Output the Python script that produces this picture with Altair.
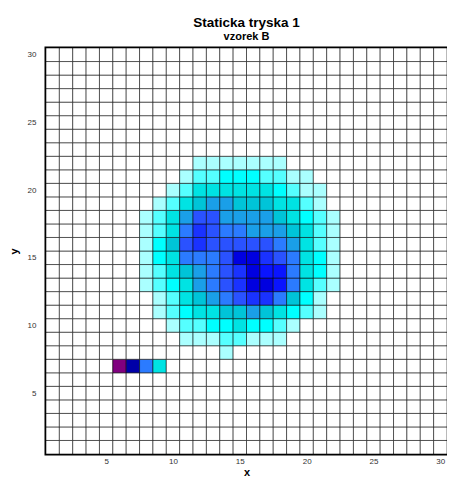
import altair as alt
import pandas as pd

title_text = "Staticka tryska 1"
subtitle_text = "vzorek B"
x_ticks = [5, 10, 15, 20, 25, 30]
y_ticks = [5, 10, 15, 20, 25, 30]
n_cols = 30
n_rows = 30

# colour of each level (0 = empty cell)
level_colors = [
    "#ffffff", "#aaffff", "#55ffff", "#00ffff", "#00e3e3", "#00c4d8", "#1a9fe8",
    "#2b7bff", "#2a52ff", "#1a32ff", "#0a14ff", "#0000e0", "#0000a8", "#80007f",
]

# each row: (y, first x, levels from that x on)
row_22 = (22, 12, [1, 1, 1, 1, 1, 1, 1])
row_21 = (21, 11, [1, 2, 2, 3, 3, 3, 2, 2, 1, 1])
row_20 = (20, 10, [1, 2, 4, 4, 4, 4, 4, 4, 3, 2, 1, 1])
row_19 = (19, 9, [1, 2, 4, 5, 6, 6, 5, 5, 5, 4, 4, 2, 1])
row_18 = (18, 8, [1, 2, 4, 6, 8, 8, 6, 6, 6, 6, 5, 4, 3, 2, 1])
row_17 = (17, 8, [1, 2, 4, 7, 9, 8, 7, 7, 6, 6, 6, 5, 4, 2, 1])
row_16 = (16, 8, [1, 3, 5, 8, 9, 8, 8, 8, 8, 8, 7, 6, 4, 2, 1])
row_15 = (15, 8, [1, 3, 4, 7, 7, 7, 8, 11, 11, 9, 8, 7, 4, 3, 1])
row_14 = (14, 8, [1, 2, 4, 5, 6, 7, 8, 9, 11, 10, 10, 7, 4, 3, 1])
row_13 = (13, 8, [1, 2, 3, 4, 6, 7, 8, 9, 11, 11, 10, 7, 4, 2, 1])
row_12 = (12, 9, [1, 2, 4, 5, 6, 7, 8, 9, 9, 7, 5, 3, 1])
row_11 = (11, 9, [1, 2, 3, 4, 4, 5, 5, 6, 5, 4, 3, 2, 1])
row_10 = (10, 10, [1, 2, 2, 3, 3, 4, 3, 3, 2, 1])
row_09 = (9, 11, [1, 1, 1, 2, 2, 1, 1, 1])
row_08 = (8, 14, [1])
row_07 = (7, 6, [13, 12, 7, 4])

rows = [row_22, row_21, row_20, row_19, row_18, row_17, row_16, row_15,
        row_14, row_13, row_12, row_11, row_10, row_09, row_08, row_07]

lookup = {}
for yy, x_start, levels in rows:
    for k, lv in enumerate(levels):
        lookup[(x_start + k, yy)] = lv

records = []
for yy in range(1, n_rows + 1):
    for xx in range(1, n_cols + 1):
        records.append({
            "x0": xx - 0.5, "x1": xx + 0.5,
            "y0": yy - 0.5, "y1": yy + 0.5,
            "level": lookup.get((xx, yy), 0),
        })
df = pd.DataFrame(records)

font = "Liberation Sans"

chart = alt.Chart(df).mark_rect(
    stroke="black", strokeOpacity=0.55, strokeWidth=1
).encode(
    x=alt.X("x0:Q",
            scale=alt.Scale(domain=[0.5, n_cols + 0.5], nice=False, zero=False),
            axis=alt.Axis(values=x_ticks, title="x", labelPadding=3, titlePadding=1)),
    x2="x1:Q",
    y=alt.Y("y0:Q",
            scale=alt.Scale(domain=[0.5, n_rows + 0.5], nice=False, zero=False),
            axis=alt.Axis(values=y_ticks, title="y", labelPadding=10, titlePadding=8)),
    y2="y1:Q",
    color=alt.Color("level:O",
                    scale=alt.Scale(domain=list(range(len(level_colors))), range=level_colors),
                    legend=None),
).properties(
    width=401,
    height=406,
    title=alt.Title(
        text=title_text, subtitle=subtitle_text,
        font=font, fontSize=13.5, fontWeight="bold", color="black",
        subtitleFont=font, subtitleFontSize=11, subtitleFontWeight="bold",
        subtitleColor="black", anchor="middle", offset=6, subtitlePadding=1,
    ),
    autosize=alt.AutoSizeParams(type="none"),
    padding={"left": 38, "top": 40, "right": 0, "bottom": 26},
).configure_view(
    stroke="black", strokeWidth=3
).configure_axis(
    grid=False, ticks=False, tickSize=0, domain=False,
    labelFont=font, labelFontSize=8, labelColor="#333333",
    titleFont=font, titleFontSize=11, titleFontWeight="bold", titleColor="black",
)

chart.save("out.html", embed_options={"renderer": "svg", "actions": False})
